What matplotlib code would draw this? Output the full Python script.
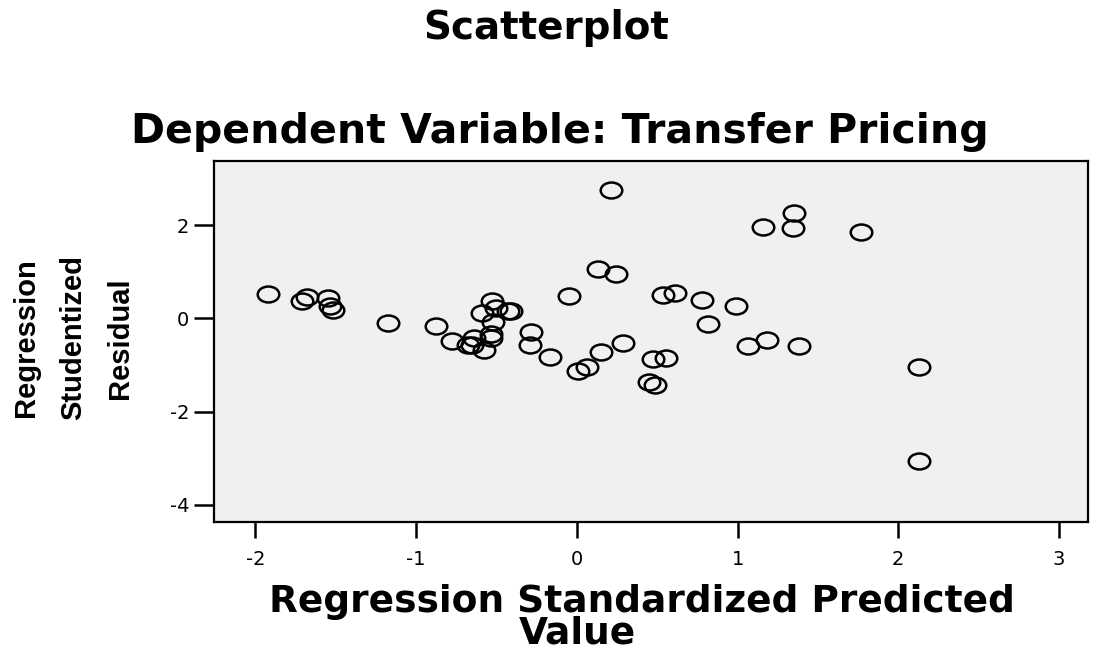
import matplotlib
matplotlib.use('Agg')
import matplotlib.pyplot as plt
from matplotlib.path import Path
from matplotlib.transforms import Affine2D

# Regression standardized predicted value (x) and studentized residual (y)
pred = [0.215, 0.130, 0.246, -1.921, -1.680, -1.710, -1.550, -1.535, -1.520,
        -0.047, -1.173, -0.874, -0.527, -0.592, -0.505, -0.430, -0.410, -0.520,
        -0.285, -0.292, -0.535, -0.537, -0.640, -0.777, -0.680, -0.655, -0.580,
        -0.169, 0.288, 0.153, 0.005, 0.064, 1.160, 1.354, 1.344, 1.765,
        0.538, 0.612, 0.781, 0.991, 0.819, 1.063, 1.181, 1.385, 2.127,
        0.475, 0.553, 0.448, 0.486, 2.127]
resid = [2.75, 1.07, 0.96, 0.53, 0.47, 0.38, 0.44, 0.26, 0.19,
         0.48, -0.10, -0.17, 0.37, 0.12, 0.22, 0.17, 0.17, -0.07,
         -0.29, -0.56, -0.33, -0.42, -0.42, -0.48, -0.58, -0.56, -0.67,
         -0.82, -0.52, -0.73, -1.13, -1.05, 1.97, 2.27, 1.94, 1.85,
         0.51, 0.54, 0.40, 0.26, -0.13, -0.60, -0.47, -0.60, -1.04,
         -0.88, -0.86, -1.36, -1.44, -3.06]

xticks = [-2, -1, 0, 1, 2, 3]
yticks = [-4, -2, 0, 2]

fig = plt.figure(figsize=(10.93, 6.5), dpi=100)
ax = fig.add_axes([0.196, 0.197, 0.7994, 0.5553])
ax.set_facecolor('#f0f0f0')

# slightly wide ellipse marker (the source picture is stretched sideways)
ring = Path.unit_circle().transformed(Affine2D().scale(1.35, 1.0))
ax.plot(pred, resid, linestyle='none', marker=ring, ms=15.5,
        mfc='none', mec='black', mew=1.8)

ax.set_xlim(-2.256, 3.18)
ax.set_ylim(-4.37, 3.38)
ax.set_xticks(xticks)
ax.set_yticks(yticks)
ax.set_xticklabels([str(t) for t in xticks])
ax.set_yticklabels([str(t) for t in yticks])

for s in ax.spines.values():
    s.set_linewidth(1.6)
ax.tick_params(axis='x', length=11.5, width=1.8, pad=9, labelsize=14)
ax.tick_params(axis='y', length=14.4, width=1.8, pad=3.6, labelsize=14)

fig.text(0.5, 0.94, 'Scatterplot', ha='center', va='baseline',
         fontsize=28, fontweight='bold', family='DejaVu Sans')
fig.text(0.512, 0.78, 'Dependent Variable: Transfer Pricing', ha='center',
         va='baseline', fontsize=29.5, fontweight='bold', family='DejaVu Sans')
fig.text(0.587, 0.0585, 'Regression Standardized Predicted', ha='center',
         va='baseline', fontsize=27, fontweight='bold', family='DejaVu Sans')
fig.text(0.528, 0.01, 'Value', ha='center', va='baseline',
         fontsize=27, fontweight='bold', family='DejaVu Sans')
fig.text(0.0668, 0.48, 'Regression\nStudentized\nResidual', rotation=90,
         ha='center', va='center', multialignment='center', linespacing=1.85,
         fontsize=21, fontweight='bold', family='Liberation Sans')

fig.savefig('out.png', dpi=100)
